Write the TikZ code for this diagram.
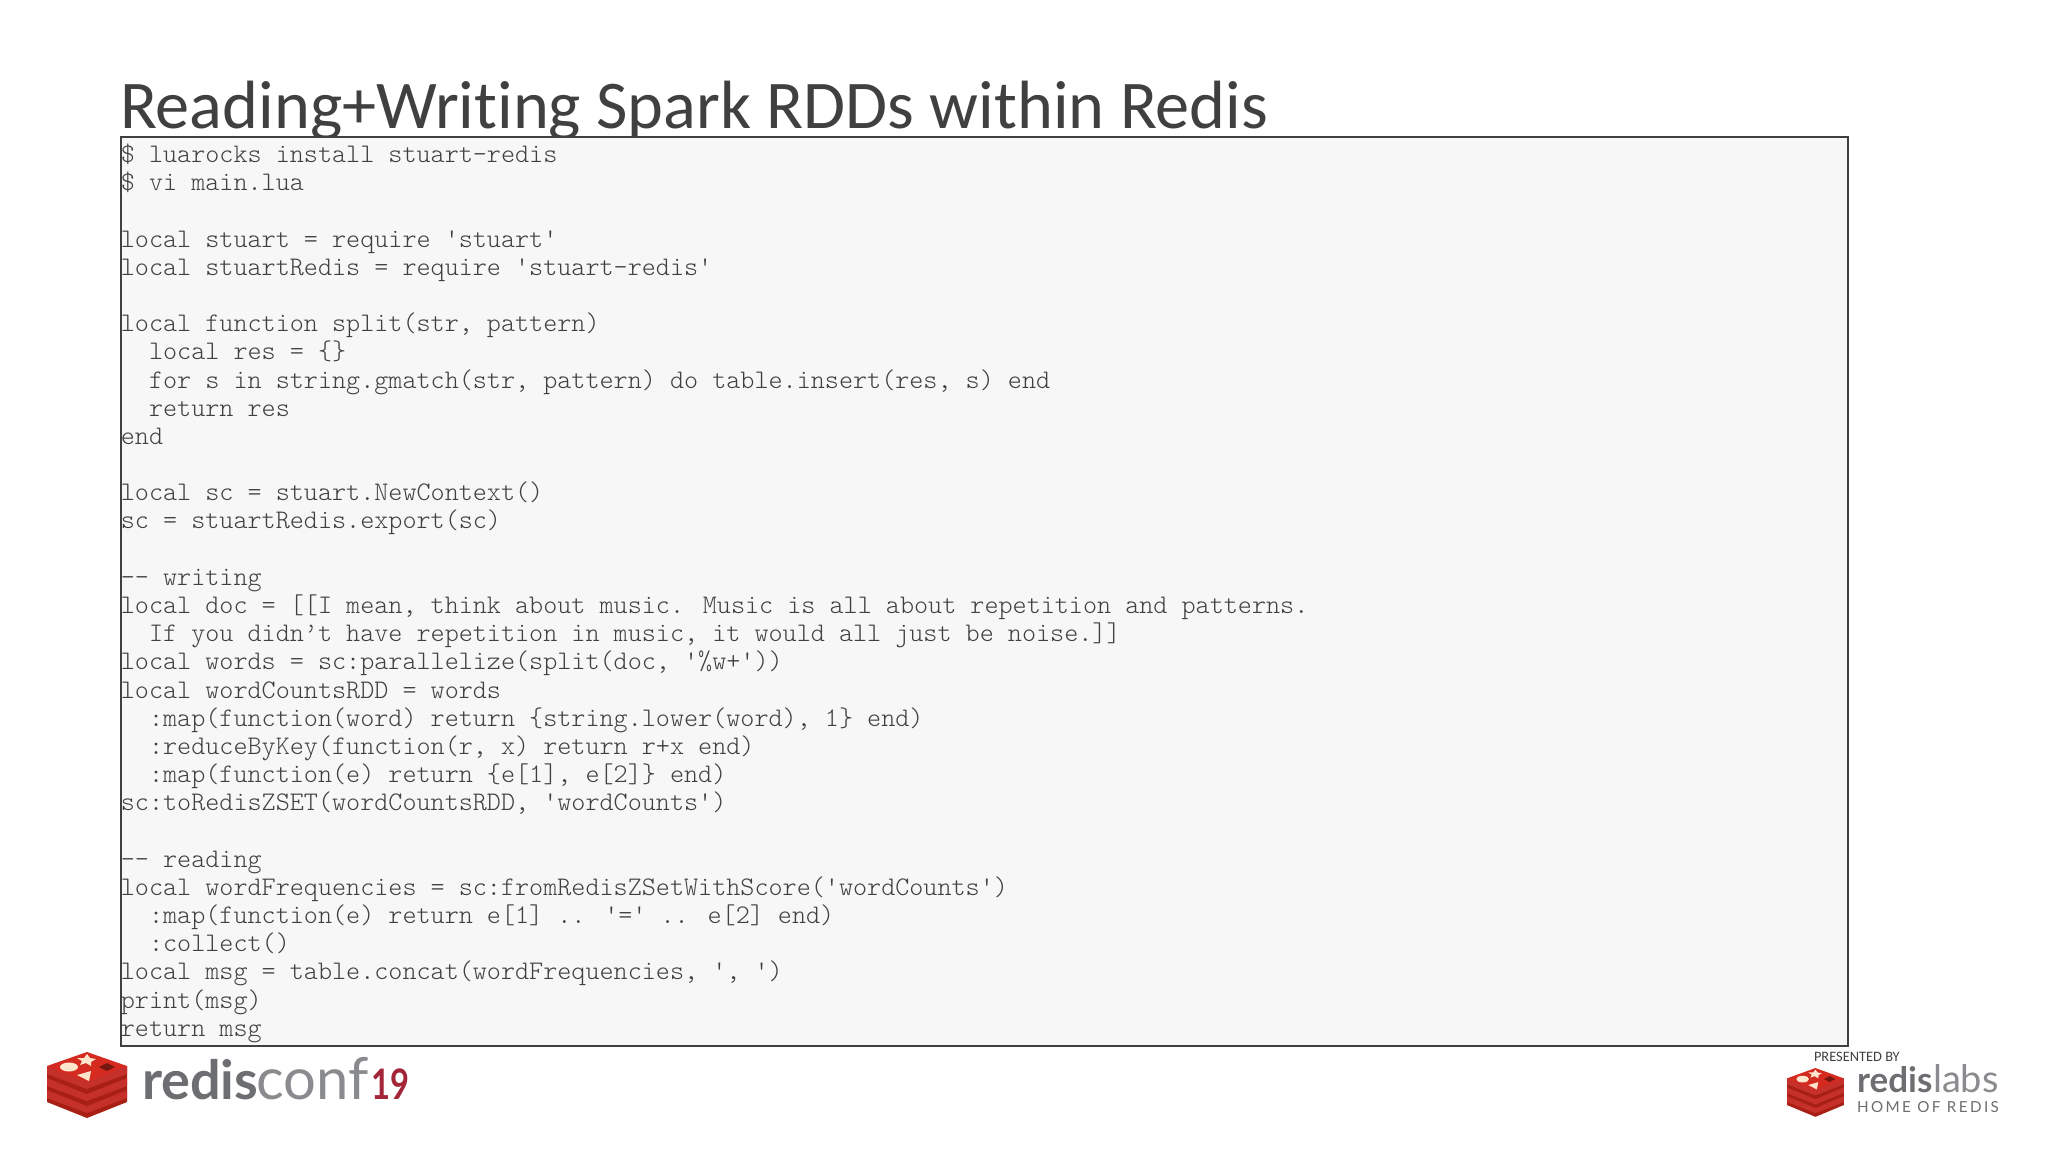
\documentclass[tikz,border=0pt]{standalone}
\usepackage{fontspec}
\setmainfont[Ligatures={NoCommon}]{Carlito}
\newfontfamily\codefont{Latin Modern Mono Light}
\newfontfamily\logofont{Lato}
\newcommand{\ind}{\hspace*{1.05em}}
\definecolor{ink}{HTML}{404040}
\definecolor{codebg}{HTML}{F7F7F7}
\definecolor{cubetop}{HTML}{D42A20}
\definecolor{cubeside}{HTML}{A81F14}
\definecolor{cubemid}{HTML}{C6302B}
\definecolor{logogray}{HTML}{6D6E71}
\definecolor{logored}{HTML}{A32638}
\tikzset{
  x=0.5pt,y=-0.5pt,
  txt/.style={inner sep=0pt,outer sep=0pt,anchor=base west},
  title/.style={txt,text=ink,font=\fontsize{34.15}{38}\selectfont},
  codeblock/.style={inner sep=0pt,anchor=north west,align=left,text=ink,
    font=\codefont\fontsize{13.41}{14.09}\selectfont},
  codebox/.style={draw=ink,fill=codebg,line width=1pt},
  logoword/.style={txt,text=logogray},
  redis cube/.pic={
    \foreach \d in {24,12,0}{
      \fill[cubeside,shift={(0,\d)}] (0,14) -- (0,26) -- (40,42) -- (80,26) -- (80,14) -- cycle;
      \fill[cubemid,shift={(0,\d)}] (0,14) -- (0,22) -- (40,37) -- (80,22) -- (80,14) -- cycle;
    }
    \fill[cubetop] (40,0) -- (80,14) -- (40,30) -- (0,14) -- cycle;
    \fill[white!80!orange] (22,15) ellipse (9 and 4.5);
    \fill[white!80!orange] (40,2) -- (43,6) -- (49,7) -- (44,10) -- (44,14) -- (39,11) -- (33,13) -- (35,9) -- (30,6) -- (37,6) -- cycle;
    \fill[white!80!orange] (44,19) -- (42,29) -- (30,23) -- cycle;
    \fill[cubeside!70!black] (60,11) -- (68,15) -- (60,19) -- (52,15) -- cycle;
  }
}
\begin{document}
\begin{tikzpicture}
\useasboundingbox (0,0) rectangle (2048,1152);
\fill[white] (0,0) rectangle (2048,1152);
\node[title] (heading) at (120,128) {Reading+Writing Spark RDDs within Redis};
\node[codebox,minimum width=863.5pt,minimum height=454.5pt,anchor=north west,inner sep=0pt] (box) at (120,136) {};
\node[codeblock] (code) at (120.5,143.5) {%
\$ luarocks install stuart-redis\\
\$ vi main.lua\\
\mbox{}\\
local stuart = require 'stuart'\\
local stuartRedis = require 'stuart-redis'\\
\mbox{}\\
local function split(str, pattern)\\
\ind local res = \{\}\\
\ind for s in string.gmatch(str, pattern) do table.insert(res, s) end\\
\ind return res\\
end\\
\mbox{}\\
local sc = stuart.NewContext()\\
sc = stuartRedis.export(sc)\\
\mbox{}\\
-- writing\\
local doc = [[I mean, think about music. Music is all about repetition and patterns.\\
\ind If you didn’t have repetition in music, it would all just be noise.]]\\
local words = sc:parallelize(split(doc, '\%w+'))\\
local wordCountsRDD = words\\
\ind :map(function(word) return \{string.lower(word), 1\} end)\\
\ind :reduceByKey(function(r, x) return r+x end)\\
\ind :map(function(e) return \{e[1], e[2]\} end)\\
sc:toRedisZSET(wordCountsRDD, 'wordCounts')\\
\mbox{}\\
-- reading\\
local wordFrequencies = sc:fromRedisZSetWithScore('wordCounts')\\
\ind :map(function(e) return e[1] .. '=' .. e[2] end)\\
\ind :collect()\\
local msg = table.concat(wordFrequencies, ', ')\\
print(msg)\\
return msg};
\pic[scale=1] at (47,1052) {redis cube};
\node[logoword,font=\logofont\bfseries\fontsize{27}{32}\selectfont] (conf1) at (142,1099) {redis};
\node[logoword,font=\logofont\fontsize{29}{32}\selectfont,text=logogray!80] (conf2) at (256,1099) {conf};
\node[logoword,font=\logofont\bfseries\fontsize{21}{24}\selectfont,text=logored,xscale=0.78] (conf3) at (371,1099) {19};
\pic[xscale=0.71,yscale=0.74] at (1787,1068) {redis cube};
\node[txt,text=ink,font=\fontsize{7.2}{9}\selectfont] (presented) at (1814,1061) {PRESENTED BY};
\node[logoword,font=\logofont\bfseries\fontsize{17.5}{22}\selectfont] (labs1) at (1857,1092) {redis};
\node[logoword,font=\logofont\fontsize{19}{22}\selectfont,text=logogray!80] (labs2) at (1933,1092) {labs};
\node[logoword,font=\logofont\fontsize{7.6}{9}\selectfont] (home) at (1857,1112) {\addfontfeature{LetterSpace=16}HOME OF REDIS};
\end{tikzpicture}
\end{document}
